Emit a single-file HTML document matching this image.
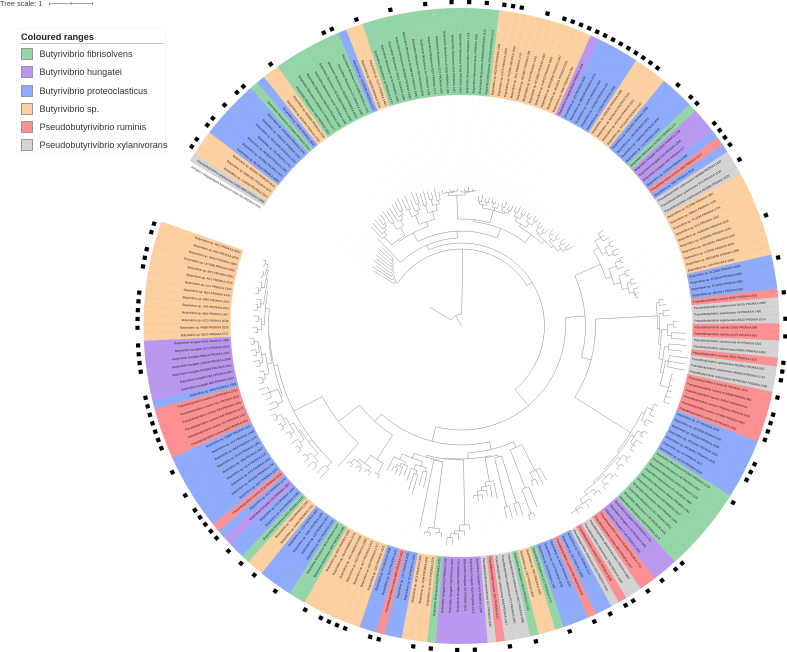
<!DOCTYPE html>
<html lang="en">
<head>
<meta charset="utf-8">
<title>Butyrivibrio circular phylogenetic tree</title>
<style>
html,body{margin:0;padding:0;background:#fff}
body{width:787px;height:652px;overflow:hidden;position:relative;font-family:"Liberation Sans",sans-serif}
#tree-svg{position:absolute;left:0;top:0}
.scale-text{position:absolute;left:0;top:-1px;font-size:7.4px;line-height:9px;color:#444;white-space:nowrap}
.legend{position:absolute;left:16px;top:28px;width:150px;height:127px;background:#fff;border:1px solid #f6f6f6;box-sizing:border-box}
.legend-title{position:absolute;left:4px;top:2.5px;font-size:9.2px;font-weight:bold;line-height:11px;color:#222;white-space:nowrap}
.legend-rule{position:absolute;left:3px;top:13.5px;width:144px;height:1.5px;background:#c8c8c8}
.legend-entry{position:absolute;left:4px;width:150px;height:13px}
.legend-swatch{position:absolute;left:0;top:0;width:12px;height:12px;box-sizing:border-box;border:1px solid #999}
.legend-label{position:absolute;left:18.5px;top:0;font-size:9.1px;line-height:12px;color:#333;white-space:nowrap}
</style>
</head>
<body>
<svg id="tree-svg" width="787" height="652" viewBox="0 0 787 652" xmlns="http://www.w3.org/2000/svg"></svg>
<div class="scale-text">Tree scale: 1</div>
<div class="legend">
  <div class="legend-title">Coloured ranges</div>
  <div class="legend-rule"></div>
  <div class="legend-entry" style="top:19px"><div class="legend-swatch" style="background:#95d6a9"></div><div class="legend-label">Butyrivibrio fibrisolvens</div></div>
  <div class="legend-entry" style="top:37px"><div class="legend-swatch" style="background:#bb98ef"></div><div class="legend-label">Butyrivibrio hungatei</div></div>
  <div class="legend-entry" style="top:55.5px"><div class="legend-swatch" style="background:#8fabfb"></div><div class="legend-label">Butyrivibrio proteoclasticus</div></div>
  <div class="legend-entry" style="top:73.5px"><div class="legend-swatch" style="background:#fdd0a2"></div><div class="legend-label">Butyrivibrio sp.</div></div>
  <div class="legend-entry" style="top:92px"><div class="legend-swatch" style="background:#fc9092"></div><div class="legend-label">Pseudobutyrivibrio ruminis</div></div>
  <div class="legend-entry" style="top:110px"><div class="legend-swatch" style="background:#d4d4d4"></div><div class="legend-label">Pseudobutyrivibrio xylanivorans</div></div>
</div>
<script>
// ---------- data ----------
const rangeSpecies = ['none','xyl','sp','pro','fib','pro','sp','fib','pro','sp','fib','sp','hun','pro','sp','pro','fib','hun','pro','rum','pro','xyl','sp','pro','rum','xyl','rum','xyl','rum','xyl','rum','pro','fib','hun','rum','xyl','rum','xyl','pro','rum','pro','fib','sp','fib','xyl','rum','xyl','hun','fib','sp','pro','rum','pro','sp','fib','pro','sp','fib','pro','hun','pro','rum','pro','rum','pro','hun','sp'];
const rangeCounts = [1,1,3,7,1,1,2,8,1,2,16,11,1,5,4,4,1,3,1,1,1,3,10,4,1,3,2,2,1,3,6,7,10,3,2,2,1,1,2,1,3,1,2,1,3,1,1,6,1,3,2,1,2,7,2,4,2,1,2,1,1,1,9,6,1,7,14];
const speciesColors = {none:'none',fib:'#95d6a9',hun:'#bb98ef',pro:'#8fabfb',sp:'#fdd0a2',rum:'#fc9092',xyl:'#d4d4d4'};
const speciesNames = {none:'A7S284.1 Megasphaera hexanoica strain',fib:'Butyrivibrio fibrisolvens',hun:'Butyrivibrio hungatei',pro:'Butyrivibrio sp.',sp:'Butyrivibrio sp.',rum:'Pseudobutyrivibrio ruminis',xyl:'Pseudobutyrivibrio xylanivorans'};
const leafIds = [
'Ma 2401','DSM14809 1958','LC2016 2314','XBB1001 1870','AD3002 1622','MC2013 2058','NC2002 1187','AE3004 2466','TB 1723','WCE2006 1309',
'YAB3001 1492','XPD2002 2101','FCS006 1265','CB08 1533','AE2005 1702','AE3006 2150','16/4 1011','DSM3071 2277','AB2020 1640','Nor37 1348',
'WTE2008 1096','LB2008 2042','D1 1581','NC3005 1914','VCD2006 1127','OB235 2219','H17c 1463','L8 1777','Ya-Sl 2305','JK611 1206',
'ND3005 1538','NCIMB704 1860','43/3 2094','2/2 1339','MZ5 2171','5/12 1029','LP1028 1185','SH1 1447','R15a 1603','INBov 1729',
'RHa1 1951','YRB2005 1115','XPD2006 2201','AE2015 1346','C175 1494','FC2001 1618','RL2 1770','NC2007 195','SY3 1243','AC2005 1002',
'KHP13 1883','WCD3002 1367','MC2021 2011','P6B7 1788','B316 1255','2/3 1636','MB2005 1474','SAM1 1142','FD2003 242','LC2004 1955',
'ND2006 1320','NK4A144 2013','AE3003 1561','XPD2003 1447','VCB2006 1099','C6A 1282','YAB3002 1830','V12 1605','AC3001 174','MD2005 1728',
'P18 1396','SAP 877','FE2010 589','OB1 2077','MP5 2019','ND3008 1432','SY4 1216','AE2006 2023','FC2005 1691','INlla21 1196',
'TC2030 1754','D15 1483','NCB2003 2118','ACB2006 1065','WCD2001 2040','LC2006 2016','MCD2006 1398','CG4 1610','NC2010 2040','FCS014 2060',
'FC2003 1662','MC2017 620','OR37 2051','JK626 2095','49 1492','BS43 1074','OB52 860','ACV3 891','H4 1921','DSM1 1293',
'YE44 1510','NE2001 502','MA3014 1719','NCFB2397 2199','B1 1344','HUN009 961','TAD10 503','YRB2005 1052','NCIMB 1593','LB 1330',
'RT 2079','ND2009 662','AE2004 1238','XPD2001 1604','WCB2001 1905','C1 1117','ACV9 2216','PC2007 1729','H8 1453','AR40 1224',
'LP1 1880','NK4A1 1361','D8 1627','HM2 1063','UC1 2015','6-36 1422','MZ8 1174','P28 1781','1-16 1358','P-36 1533',
'ND2008 1713','AB2 1270','Nor1 1892','YRB 2180','KH5 1056','AE2 1419','NC1 1137','MC 1245','FE6 1671','HUN7 1530',
'AC5 1048','D4 1799','LC1 1271','PR1 1183','CB2 1620','AE14 1342','WE1 1095','FC1 1851','AD8 1417','XB1 2012',
'LC7 1139','YA3 1248','NC9 1525','H9 2011','GB 1611','TB9 1032','VC2 1740','NE9 1215','ACV1 2078','DSM 2911',
'WC4 1346','RT3 1201','LB7 1629','MB4 1483','UC2 1126','P5 1058','SA3 1915','AE9 1727','AC7 1413','ND3 1090',
'XP3 1650','FD4 1278','BS2 1332','OB9 1185','MC5 1447','NK2 1701','C8 1063','YAB4 1238','LC3 1521','HUN5 1714',
'TAD3 1326','MZ2 2100','AD4 1049','FC6 1682','LP6 1397','H12 1270','VC8 1536','WC7 1101','AE3009 1738','RT5 1419',
'NC4 1122','XB6 1647','ACV5 1395','MC9 1270','D12 1048','DSM5 1521','BS9 2011','YE1 1347','KH9 1173','P23 1902',
'H21 2057','LC8 2715','MD5 1358','AE6 1037','FE1 2057','MC2002 2541','LB2003 2546','INlla14 2007','SC2 1833','NC3 1362',
'WC2 2717','P6B8 2526','AC2 2586','AE4 1467','XP1 2521','MB2 2021','ND2 1494','LC2 2100','AE1 2729','MF2 2521',
'UC1035 2051','NCE2 1888','AD2 2026','MC1 2023'
];
const markedLeaves = [2,3,5,6,8,10,11,15,22,23,26,30,34,37,39,41,43,44,45,48,50,51,52,53,54,55,56,57,58,59,60,61,62,65,67,68,71,72,73,74,76,83,88,92,95,97,100,101,102,104,106,107,108,109,112,113,114,117,126,127,129,131,133,134,136,138,141,145,148,152,154,157,159,163,164,167,168,169,170,172,176,179,181,183,185,186,187,188,189,191,194,197,198,199,200,201,202,203,206,207,208,209,211,212,213,214,215,218,219,220,222,223];

// Tree depths: a node is [depth, ...children], a leaf is its tip depth (43 depth = scale 1).
const cladeA = [80,104,[83,107,[86,105,[88,110,[90,108,[92,112,[94,110,[96,114,112]]]]]]]];
const cladeB = 122;
const cladeC1 = [118,134,[122,136,[125,137,[128,136,138]]]];
const cladeC2 = [116,[124,139,137],[122,138,[126,140,[130,141,143]]]];
const cladeD1 = [120,[128,140,142],[124,136,[130,143,141]]];
const cladeD2 = [118,[126,138,140],[124,[130,139,137],[128,141,136]]];
const cladeE1 = [131,[134,137,136,[135,137,136,138]],[134,136,[135,137,139,[136,138,137]]]];
const cladeF = [120,[123,[126,131,133],[126,130,132]],[123,[127,131,129],128],[122,[126,130,132],[125,128,131]]];
const cladeG1 = [118,[122,[126,131,133],[127,130,132]],[123,[127,132,130],[128,133,131]]];
const cladeG3 = [121,[125,131,129],[124,128,130]];
const cladeG4 = [122,[125,[128,133,131],[129,134,132]],[126,[129,135,133],[130,136,138]]];
const cladeT1 = [158,[165,171,169,172],[163,[169,174,172],[168,175,173]]];
const cladeT2 = [158,[166,[172,176,174],173],[165,[172,177,175],[171,[175,179,180],[176,181,[177,180,179]]]]];
const cladeQ1 = [196,[199,204,206],[198,[202,209,208],[200,[206,[212,216,215],[210,225,224]],[204,[208,226,222],[207,[210,229,228,227],[212,[216,217,218,219,220,221,222]]]]]]];
const cladeQ2 = [200,[203,[208,212,210,213],[207,214,211]],[202,[205,[210,215,213],[209,216,212,214]],[204,[207,[212,214,216],[211,215,213]],[206,[209,[213,217,215],[214,216,218]],[210,[214,218,216],[215,219,222,[217,220,221,218]]]]]]];
const cladeS1b = [133,[162,176,178,[170,177,175]],[174,196,[200,204,206]]];
const cladeS1ar = [136,[185,199,198],[186,199,197]];
const cladeS1al = [158,177,[162,174,[166,172,[170,175,176,173]]]];
const cladeS1c = [199,204,[205,210,[208,214,[212,219,220]]]];
const cladeS1d = [137,[204,[208,212,210],[209,213,211]],207];
const cladeS2 = [141,[146,[150,166,165],[151,[155,175,172],164]],[147,[150,160,[153,162,[156,163,161]]],163]];
const cladeX1 = [158,[170,174,172],[168,[172,176,175],[171,[174,178,177],[176,180,179]]]];
const cladeY1 = [188,[195,208,206],[192,[197,[201,207,209],[202,208,205]],[194,[199,[203,208,206],207],[198,[202,205,207],[201,[205,209,208],[206,210,211]]]]]];
const cladeYa = [194,[200,210,208],[203,209,211,212]];
const cladeYc = [198,[203,[206,210,209],208],[202,[205,209,211],[204,[207,210,212],[208,211,213]]]];
const cladeYd = [197,[200,[204,207,209],[203,206,208]],[199,[202,[205,208,207],206],[201,[204,[206,209,208],207],[203,[205,207,206],[206,208,209]]]]];

const cladeV1 = [105,[107,cladeC1,cladeC2],[110,cladeD1,cladeD2]];
const cladeW = [105,[107,cladeE1,cladeF],[115,cladeG1,[119,cladeG3,cladeG4]]];
const cladeU = [88,cladeB,[95,cladeV1,cladeW]];
const cladeP = [124,[152,cladeT1,cladeT2],[134,cladeQ1,cladeQ2]];
const cladeS1 = [127,cladeS1b,[133,[134,cladeS1ar,cladeS1al],[134,cladeS1c,[136,cladeS1d,cladeS2]]]];
const cladeX = [129,cladeX1,[156,187,[188,cladeY1,[192,cladeYa,[193,cladeYc,cladeYd]]]]];
const cladeRgt = [104,cladeP,[119,cladeS1,cladeX]];
const treeDepths = [12,37,[77,cladeA,[83,cladeU,cladeRgt]]];
const scaleBarLength = 1;
const scaleBarTicks = [0,0.5,1];

// ---------- scales ----------
const cx = 461.5, cy = 326;
const startAngle = -60.26, leafPitch = 1.56;
const bandInner = 231, bandOuter = 318, labelRadius = 233, markerRadius = 324;
const depthScale = d => d;
const leafAngle = i => startAngle + leafPitch * (i + 0.5);
const pt = (r, deg) => {
  const a = deg * Math.PI / 180;
  return [cx + r * Math.sin(a), cy - r * Math.cos(a)];
};
const f = v => v.toFixed(2);
const SVGNS = 'http://www.w3.org/2000/svg';
const svg = document.getElementById('tree-svg');
const mk = (tag, attrs, parent) => {
  const el = document.createElementNS(SVGNS, tag);
  for (const k in attrs) el.setAttribute(k, attrs[k]);
  parent.appendChild(el);
  return el;
};

// ---------- bands ----------
const bandLayer = mk('g', {}, svg);


const leafSpecies = [];
rangeSpecies.forEach((sp, k) => { for (let n = 0; n < rangeCounts[k]; n++) leafSpecies.push(sp); });
let cursor = 0;
rangeSpecies.forEach((sp, k) => {
  const a0 = startAngle + leafPitch * cursor;
  const a1 = startAngle + leafPitch * (cursor + rangeCounts[k]);
  cursor += rangeCounts[k];
  if (sp === 'none') return;
  const [x0, y0] = pt(bandOuter, a0), [x1, y1] = pt(bandOuter, a1), [x2, y2] = pt(bandInner, a1), [x3, y3] = pt(bandInner, a0);
  const band = mk('path', {d:`M${f(x0)} ${f(y0)}A${bandOuter} ${bandOuter} 0 0 1 ${f(x1)} ${f(y1)}L${f(x2)} ${f(y2)}A${bandInner} ${bandInner} 0 0 0 ${f(x3)} ${f(y3)}Z`, fill:speciesColors[sp]}, bandLayer);
  
  
});
leafSpecies.forEach((sp, i) => {
  if (sp === 'none') return;
  const a = startAngle + leafPitch * i;
  const [x0, y0] = pt(bandInner, a), [x1, y1] = pt(bandOuter, a);
  const sep = mk('line', {x1:f(x0), y1:f(y0), x2:f(x1), y2:f(y1), stroke:'rgba(60,60,80,0.10)', 'stroke-width':'0.4'}, bandLayer);
  
  
});

// ---------- tree ----------
const treeLayer = mk('g', {fill:'none', stroke:'#8a8a8a', 'stroke-width':'0.5'}, svg);


const guideLayer = mk('g', {stroke:'#efefef', 'stroke-width':'0.35', 'stroke-dasharray':'1 1'}, svg);


let nextLeaf = 0;
function layout(n) {
  if (typeof n === 'number') {
    const idx = nextLeaf++;
    return {depth:n, theta:leafAngle(idx), leaf:true};
  }
  const kids = n.slice(1).map(layout);
  return {depth:n[0], theta:(kids[0].theta + kids[kids.length - 1].theta) / 2, kids};
}
function drawNode(node, parentDepth) {
  const r0 = depthScale(parentDepth), r1 = depthScale(node.depth);
  const [x0, y0] = pt(r0, node.theta), [x1, y1] = pt(r1, node.theta);
  let d = `M${f(x0)} ${f(y0)}L${f(x1)} ${f(y1)}`;
  if (node.kids) {
    const a0 = node.kids[0].theta, a1 = node.kids[node.kids.length - 1].theta;
    const [ax, ay] = pt(r1, a0), [bx, by] = pt(r1, a1);
    d += `M${f(ax)} ${f(ay)}A${r1} ${r1} 0 ${a1 - a0 > 180 ? 1 : 0} 1 ${f(bx)} ${f(by)}`;
  } else {
    const [gx, gy] = pt(bandInner, node.theta);
    const guide = mk('line', {x1:f(x1), y1:f(y1), x2:f(gx), y2:f(gy)}, guideLayer);
    
    
  }
  const branch = mk('path', {d}, treeLayer);
  
  
  if (node.kids) node.kids.forEach(k => drawNode(k, node.depth));
}
drawNode(layout(treeDepths), 0);

// ---------- labels ----------
const labelLayer = mk('g', {'font-family':'"Liberation Sans",sans-serif', 'font-size':'3', fill:'#1a1a1a'}, svg);


leafIds.forEach((id, i) => {
  const th = leafAngle(i);
  const norm = ((th % 360) + 360) % 360;
  const right = norm < 180;
  const rot = right ? norm - 90 : norm + 90;
  const x = right ? cx + labelRadius : cx - labelRadius;
  const t = mk('text', {x:f(x), y:f(cy + 1.05), 'text-anchor':right ? 'start' : 'end', transform:`rotate(${f(rot)} ${cx} ${cy})`}, labelLayer);
  t.textContent = speciesNames[leafSpecies[i]] + ' ' + id.replace(' ', ' PROKKA ');
  
  
});

// ---------- markers ----------
const markerLayer = mk('g', {fill:'#000'}, svg);


markedLeaves.forEach(i => {
  const th = leafAngle(i);
  const [x, y] = pt(markerRadius, th);
  const m = mk('rect', {x:f(x - 2.1), y:f(y - 2.1), width:'4.2', height:'4.2', transform:`rotate(${f(th)} ${f(x)} ${f(y)})`}, markerLayer);
  
  
});

// ---------- scale bar ----------
const scaleLayer = mk('g', {stroke:'#555', 'stroke-width':'0.6'}, svg);


const scaleX = v => 49.5 + v * 43;
mk('line', {x1:scaleX(0), y1:3.5, x2:scaleX(scaleBarLength), y2:3.5}, scaleLayer);
scaleBarTicks.forEach(v => {
  const tick = mk('line', {x1:scaleX(v), y1:2, x2:scaleX(v), y2:5}, scaleLayer);
  
  
});
</script>
</body>
</html>
